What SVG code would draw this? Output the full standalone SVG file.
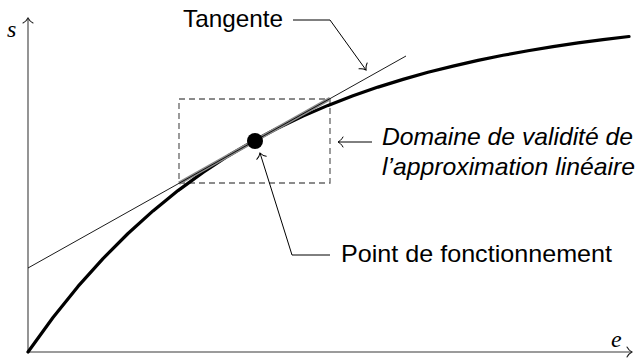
<svg xmlns="http://www.w3.org/2000/svg" width="639" height="364" viewBox="0 0 639 364">
<style>
.axis{stroke:#7a7a7a;stroke-width:1.6;fill:none}
.lead{stroke:#000;stroke-width:1;fill:none}
.lbl{font-family:"Liberation Sans","DejaVu Sans",sans-serif;font-size:24px;fill:#000}
.it{font-style:italic}
.math{font-family:"Liberation Serif","DejaVu Serif",serif;font-style:italic;font-size:24px;fill:#000}
</style>
<defs>
<marker id="to" viewBox="-7 -7 8 14" refX="0" refY="0" markerWidth="8" markerHeight="14" markerUnits="userSpaceOnUse" orient="auto">
<path d="M-5,-5 C-3.5,-2 -1,-0.5 0,0 C-1,0.5 -3.5,2 -5,5" fill="none" stroke="#000" stroke-width="1" stroke-linecap="round"/>
</marker>
<marker id="toax" viewBox="-7 -7 8 14" refX="0" refY="0" markerWidth="8" markerHeight="14" markerUnits="userSpaceOnUse" orient="auto">
<path d="M-5,-5 C-3.5,-2 -1,-0.5 0,0 C-1,0.5 -3.5,2 -5,5" fill="none" stroke="#222" stroke-width="1.1" stroke-linecap="round"/>
</marker>
</defs>
<g id="axes">
<line class="axis" x1="28" y1="352" x2="28" y2="18" marker-end="url(#toax)"/>
<line class="axis" x1="28" y1="352" x2="632" y2="352" marker-end="url(#toax)"/>
<text class="math" x="7" y="37">s</text>
<text class="math" x="611" y="347">e</text>
</g>
<g id="domain-box">
<rect x="179" y="99" width="151" height="84" fill="none" stroke="#666" stroke-width="1.3" stroke-dasharray="6,4"/>
</g>
<g id="curve">
<polyline fill="none" stroke="#000" stroke-width="3.2" stroke-linejoin="round" stroke-linecap="round" points="28,352 53,317.5 78,286.4 103,258.6 128,233.5 153,210.9 178,190.6 203,172.4 228,156 255,140.2 278,128 303,116.1 328,105.4 353,95.8 378,87.1 403,79.4 428,72.3 453,66.1 478,60.4 503,55.3 528,50.7 553,46.6 578,42.9 603,39.6 629,36.5"/>
</g>
<g id="tangent">
<line x1="179" y1="183.3" x2="330" y2="98.6" stroke="#8a8a8a" stroke-width="3.6"/>
<line x1="28" y1="268" x2="406" y2="56" stroke="#000" stroke-width="0.9"/>
</g>
<g id="operating-point">
<circle cx="255" cy="141" r="8" fill="#000"/>
</g>
<g id="connectors">
<path class="lead" d="M293,20 H330 L366,70" marker-end="url(#to)"/>
<path class="lead" d="M372,142 H338" marker-end="url(#to)"/>
<path class="lead" d="M330,255 H292 L260,153" marker-end="url(#to)"/>
</g>
<g id="label-tangente">
<text class="lbl" x="183" y="27" textLength="100" lengthAdjust="spacingAndGlyphs">Tangente</text>
</g>
<g id="label-domaine">
<text class="lbl it" x="382" y="145" textLength="251" lengthAdjust="spacingAndGlyphs">Domaine de validité de</text>
<text class="lbl it" x="382" y="175" textLength="253" lengthAdjust="spacingAndGlyphs">l’approximation linéaire</text>
</g>
<g id="label-point">
<text class="lbl" x="341" y="262" textLength="271" lengthAdjust="spacingAndGlyphs">Point de fonctionnement</text>
</g>
</svg>
